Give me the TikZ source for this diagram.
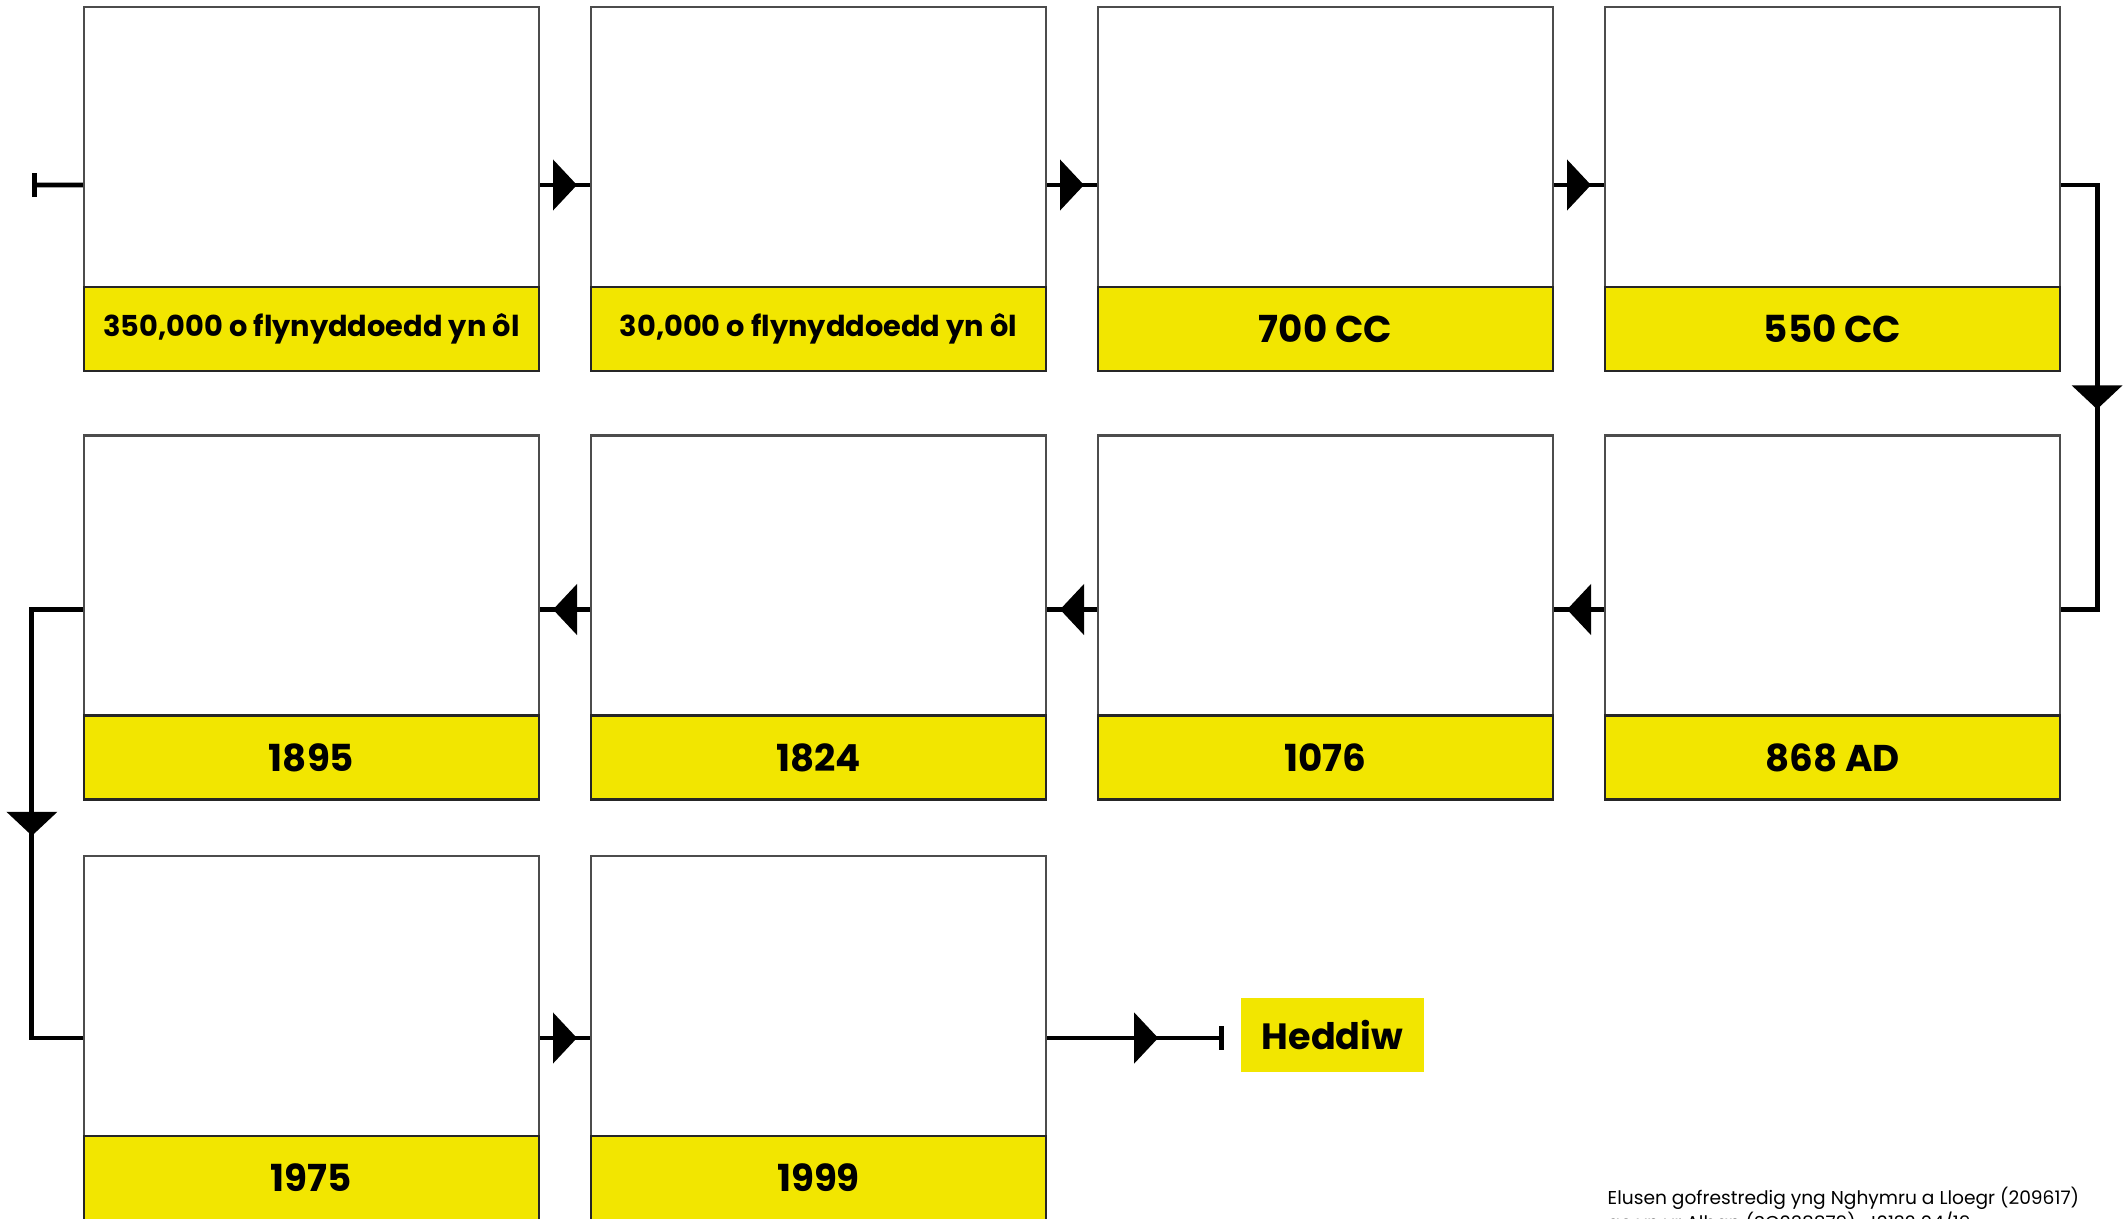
\documentclass[tikz,border=0pt]{standalone}
\usepackage{fontspec}
\setmainfont{Poppins}
\usepackage{tikz}
\usetikzlibrary{arrows.meta,decorations.markings,positioning,calc}
\definecolor{bandyellow}{RGB}{242,230,0}

\begin{document}
\begin{tikzpicture}[
  card/.style={draw=black!70, line width=0.6pt, fill=white, minimum width=4.55cm, minimum height=3.64cm, inner sep=0pt},
  band/.style={draw=black!85, line width=0.6pt, fill=bandyellow, minimum width=4.55cm, minimum height=0.84cm, inner sep=0pt, anchor=south, font=\bfseries\fontsize{10.6}{12}\selectfont},
  longband/.style={band, font=\bfseries\fontsize{8.2}{10}\selectfont},
  conn/.style={line width=1.4pt},
  flow/.style={postaction={decorate}, decoration={markings, mark=at position #1 with {\arrow[xshift=1.2mm]{Triangle[width=5mm,length=2.4mm]}}}},
  flow/.default=0.5
]
\useasboundingbox (0,0) rectangle (21.25,-12.18);

% first row
\node[card] (c1) at (3.115,-1.89) {};
\node[longband] (l1) at (c1.south) {350,000 o flynyddoedd yn ôl};
\node[card] (c2) at (8.185,-1.89) {};
\node[longband] (l2) at (c2.south) {30,000 o flynyddoedd yn ôl};
\node[card] (c3) at (13.255,-1.89) {};
\node[band] (l3) at (c3.south) {700 CC};
\node[card] (c4) at (18.325,-1.89) {};
\node[band] (l4) at (c4.south) {550 CC};

% second row, right to left
\node[card] (c5) at (18.325,-6.175) {};
\node[band] (l5) at (c5.south) {868 AD};
\node[card] (c6) at (13.255,-6.175) {};
\node[band] (l6) at (c6.south) {1076};
\node[card] (c7) at (8.185,-6.175) {};
\node[band] (l7) at (c7.south) {1824};
\node[card] (c8) at (3.115,-6.175) {};
\node[band] (l8) at (c8.south) {1895};

% third row
\node[card] (c9) at (3.115,-10.38) {};
\node[band] (l9) at (c9.south) {1975};
\node[card] (c10) at (8.185,-10.38) {};
\node[band] (l10) at (c10.south) {1999};

\node[fill=bandyellow, minimum width=1.83cm, minimum height=0.74cm, inner sep=0pt, font=\bfseries\fontsize{10.4}{12}\selectfont] (now) at (13.325,-10.35) {Heddiw};

\coordinate (start) at ($(c1.west)+(-0.51,0.04)$);
\coordinate (end) at ($(c10.east)+(1.77,0)$);

\draw[conn, {Bar[width=2.4mm]}-] (start) -- ([yshift=0.4mm]c1.west);
\draw[conn, flow] ([yshift=0.4mm]c1.east) -- ([yshift=0.4mm]c2.west);
\draw[conn, flow] ([yshift=0.4mm]c2.east) -- ([yshift=0.4mm]c3.west);
\draw[conn, flow] ([yshift=0.4mm]c3.east) -- ([yshift=0.4mm]c4.west);
\draw[conn, flow] ([yshift=0.4mm]c4.east) -- ++(0.36,0) |- ([yshift=0.8mm]c5.east);
\draw[conn, flow] ([yshift=0.8mm]c5.west) -- ([yshift=0.8mm]c6.east);
\draw[conn, flow] ([yshift=0.8mm]c6.west) -- ([yshift=0.8mm]c7.east);
\draw[conn, flow] ([yshift=0.8mm]c7.west) -- ([yshift=0.8mm]c8.east);
\draw[conn, flow] ([yshift=0.8mm]c8.west) -- ++(-0.51,0) |- (c9.west);
\draw[conn, flow] (c9.east) -- (c10.west);
\draw[conn, flow=0.56, -{Bar[width=2.4mm]}] (c10.east) -- (end);

\node[anchor=base west, align=left, inner sep=0pt, font=\fontsize{5.3}{7.1}\selectfont] (note) at (16.07,-12.29) {Elusen gofrestredig yng Nghymru a Lloegr (209617)\\ac yn yr Alban (SC038879). J0132 04/19};
\end{tikzpicture}
\end{document}
